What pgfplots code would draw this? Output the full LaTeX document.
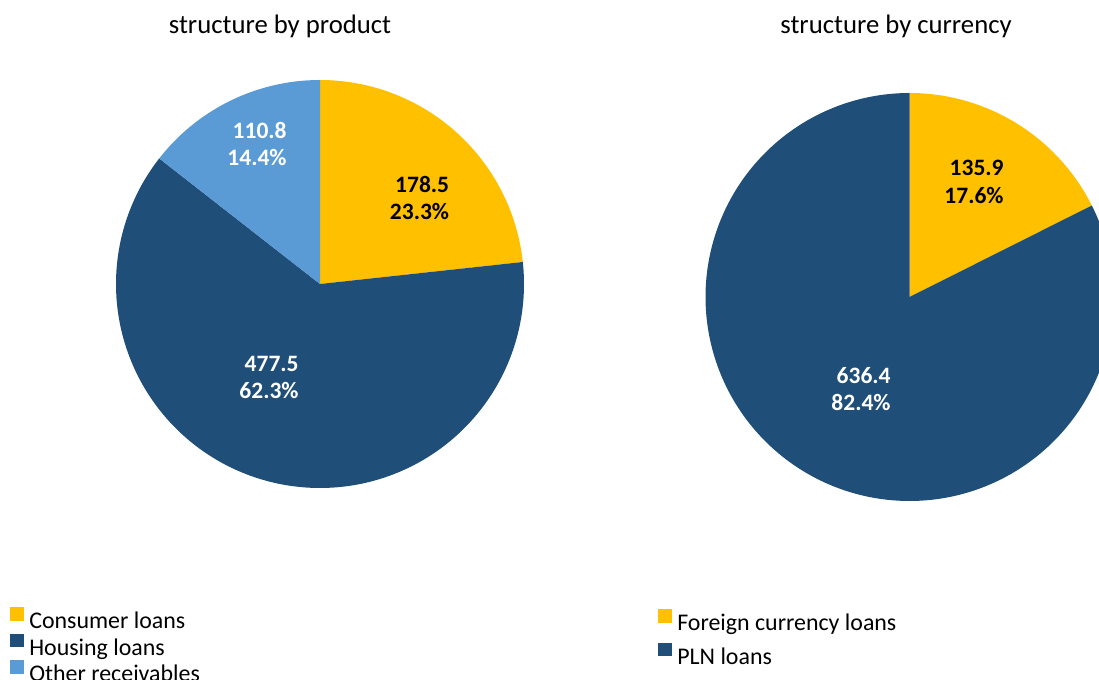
\documentclass[border=0pt]{standalone}
\usepackage{fontspec}
\setmainfont{Carlito}
\usepackage{pgfplots}
\pgfplotsset{compat=1.18}
\definecolor{cYel}{HTML}{FFC000}
\definecolor{cDark}{HTML}{1F4E79}
\definecolor{cLight}{HTML}{5B9BD5}

% data (PLN bn)
\def\vCons{178.5}\def\vHous{477.5}\def\vOther{110.8}
\def\vFx{135.9}\def\vPln{636.4}
\pgfmathsetmacro{\totP}{\vCons+\vHous+\vOther}
\pgfmathsetmacro{\aA}{90-360*(\vCons/\totP)}
\pgfmathsetmacro{\aB}{\aA-360*(\vHous/\totP)}
\pgfmathsetmacro{\totC}{\vFx+\vPln}
\pgfmathsetmacro{\aC}{90-360*(\vFx/\totC)}

\pgfplotsset{pieframe/.style={
  width=549.5pt,height=340pt,scale only axis,
  xmin=0,xmax=1099,ymin=0,ymax=680,hide axis,
  at={(0,0)},anchor=south west,clip=true,
  legend cell align=left,
  legend image code/.code={\path[##1] (0pt,1pt) rectangle (7pt,7.8pt);},
  legend style={draw=none,fill=none,inner sep=0pt,outer sep=0pt,
    column sep=2.65pt,
    nodes={inner sep=0pt,text height=9pt,text depth=3pt,
      font=\fontsize{11.95}{14}\selectfont}},
}}
\tikzset{lbl/.style={anchor=east,align=right,inner sep=0pt,
  font=\fontsize{11.75}{13.75}\selectfont\bfseries}}

\begin{document}
\begin{tikzpicture}[font=\fontsize{11.75}{14}\selectfont]
\begin{axis}[pieframe,
  legend style={at={(0.0091,0.1074)},anchor=north west,row sep=-0.5pt}]
  \addplot[fill=cYel,draw=none,domain=\aA:90,samples=120,variable=\t]
    ({320+204*cos(\t)},{396+204*sin(\t)}) -- (axis cs:320,396) -- cycle;
  \addlegendentry{Consumer loans}
  \addplot[fill=cDark,draw=none,domain=\aB:\aA,samples=200,variable=\t]
    ({320+204*cos(\t)},{396+204*sin(\t)}) -- (axis cs:320,396) -- cycle;
  \addlegendentry{Housing loans}
  \addplot[fill=cLight,draw=none,domain=-270:\aB,samples=80,variable=\t]
    ({320+204*cos(\t)},{396+204*sin(\t)}) -- (axis cs:320,396) -- cycle;
  \addlegendentry{Other receivables}
  \node[anchor=base,font=\fontsize{13.35}{16}\selectfont] at (axis cs:280,646) {structure by product};
  \node[lbl,text=black] at (axis cs:449.5,482) {178.5\\23.3\%};
  \node[lbl,text=white] at (axis cs:287,536) {110.8\\14.4\%};
  \node[lbl,text=white] at (axis cs:299,302.5) {477.5\\62.3\%};
\end{axis}
\begin{axis}[pieframe,
  legend style={at={(0.5987,0.1044)},anchor=north west,row sep=3.1pt}]
  \addplot[fill=cYel,draw=none,domain=\aC:90,samples=100,variable=\t]
    ({909.5+204*cos(\t)},{383+204*sin(\t)}) -- (axis cs:909.5,383) -- cycle;
  \addlegendentry{Foreign currency loans}
  \addplot[fill=cDark,draw=none,domain=-270:\aC,samples=250,variable=\t]
    ({909.5+204*cos(\t)},{383+204*sin(\t)}) -- (axis cs:909.5,383) -- cycle;
  \addlegendentry{PLN loans}
  \node[anchor=base,font=\fontsize{13.35}{16}\selectfont] at (axis cs:896,646) {structure by currency};
  \node[lbl,text=black] at (axis cs:1004,498) {135.9\\17.6\%};
  \node[lbl,text=white] at (axis cs:891,291) {636.4\\82.4\%};
\end{axis}
\pgfresetboundingbox
\useasboundingbox (0,0) rectangle (549.5pt,340pt);
\end{tikzpicture}
\end{document}
